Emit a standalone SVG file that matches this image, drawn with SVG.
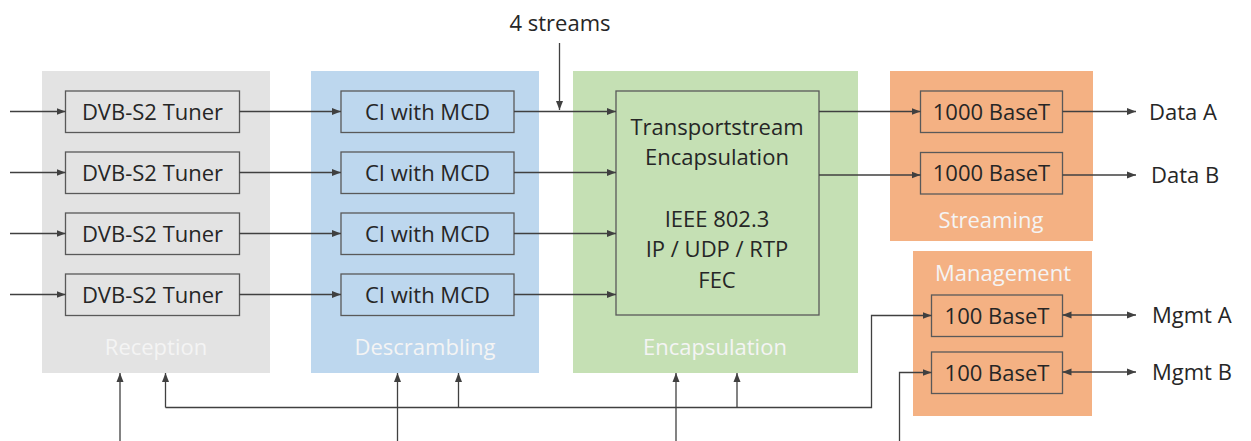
<svg xmlns="http://www.w3.org/2000/svg" width="1251" height="441" viewBox="0 0 1251 441">
<style>
text{font-family:"Open Sans","Noto Sans",sans-serif;font-size:22px;fill:#262626}
.gl{fill:#f4f4f4;text-anchor:middle}
.c{text-anchor:middle}
.box{stroke:#595959;stroke-width:1.3}
.ln{fill:none;stroke:#404040;stroke-width:1.3}
.a{marker-end:url(#ah)}
.b{marker-end:url(#ah);marker-start:url(#ah)}
</style>
<defs>
<marker id="ah" markerUnits="userSpaceOnUse" markerWidth="9" markerHeight="8" refX="9" refY="4" orient="auto-start-reverse" viewBox="0 0 9 8">
<path d="M0,0.5 L9,4 L0,7.5 z" fill="#404040"/>
</marker>
</defs>
<g id="reception">
<rect x="42" y="71" width="228" height="302" fill="#e3e3e3"/>
<text class="gl" x="156" y="355">Reception</text>
</g>
<g id="descrambling">
<rect x="311" y="71" width="228" height="302" fill="#bdd7ee"/>
<text class="gl" x="425" y="355">Descrambling</text>
</g>
<g id="encapsulation">
<rect x="573" y="71" width="285" height="302" fill="#c5e0b4"/>
<text class="gl" x="715" y="355">Encapsulation</text>
</g>
<g id="streaming">
<rect x="890" y="71" width="203" height="170" fill="#f4b183"/>
<text class="gl" x="991" y="228">Streaming</text>
</g>
<g id="management">
<rect x="913" y="251" width="179" height="165" fill="#f4b183"/>
<text class="gl" x="1003" y="281">Management</text>
</g>
<g id="tuner1"><rect class="box" x="65.5" y="91" width="174" height="41.5" fill="#e3e3e3"/><text class="c" x="152.5" y="119.5">DVB-S2 Tuner</text></g>
<g id="tuner2"><rect class="box" x="65.5" y="152" width="174" height="41.5" fill="#e3e3e3"/><text class="c" x="152.5" y="180.5">DVB-S2 Tuner</text></g>
<g id="tuner3"><rect class="box" x="65.5" y="213" width="174" height="41.5" fill="#e3e3e3"/><text class="c" x="152.5" y="241.5">DVB-S2 Tuner</text></g>
<g id="tuner4"><rect class="box" x="65.5" y="274" width="174" height="41.5" fill="#e3e3e3"/><text class="c" x="152.5" y="302.5">DVB-S2 Tuner</text></g>
<g id="ci1"><rect class="box" x="341" y="91" width="173" height="41.5" fill="#bdd7ee"/><text class="c" x="427.5" y="119.5">CI with MCD</text></g>
<g id="ci2"><rect class="box" x="341" y="152" width="173" height="41.5" fill="#bdd7ee"/><text class="c" x="427.5" y="180.5">CI with MCD</text></g>
<g id="ci3"><rect class="box" x="341" y="213" width="173" height="41.5" fill="#bdd7ee"/><text class="c" x="427.5" y="241.5">CI with MCD</text></g>
<g id="ci4"><rect class="box" x="341" y="274" width="173" height="41.5" fill="#bdd7ee"/><text class="c" x="427.5" y="302.5">CI with MCD</text></g>
<g id="tsenc">
<rect class="box" x="616" y="91" width="203" height="224" fill="#c5e0b4"/>
<text class="c" x="717" y="134.5">Transportstream</text>
<text class="c" x="717" y="164.5">Encapsulation</text>
<text class="c" x="717" y="226.5">IEEE 802.3</text>
<text class="c" x="717" y="256.5">IP / UDP / RTP</text>
<text class="c" x="717" y="288">FEC</text>
</g>
<g id="gbe1"><rect class="box" x="920.5" y="91" width="142" height="41.5" fill="#f4b183"/><text class="c" x="991.5" y="119.5">1000 BaseT</text></g>
<g id="gbe2"><rect class="box" x="920.5" y="152.5" width="142" height="41.5" fill="#f4b183"/><text class="c" x="991.5" y="181">1000 BaseT</text></g>
<g id="fe1"><rect class="box" x="931.5" y="295" width="131" height="41.5" fill="#f4b183"/><text class="c" x="997" y="323.5">100 BaseT</text></g>
<g id="fe2"><rect class="box" x="931.5" y="352" width="131" height="41.5" fill="#f4b183"/><text class="c" x="997" y="380.5">100 BaseT</text></g>
<g id="labels">
<text class="c" x="560" y="31">4 streams</text>
<text x="1149" y="120">Data A</text>
<text x="1151" y="183">Data B</text>
<text x="1152" y="323">Mgmt A</text>
<text x="1152" y="380">Mgmt B</text>
</g>
<g id="connectors">
<path class="ln a" d="M10,111.5H65.5"/>
<path class="ln a" d="M10,172.5H65.5"/>
<path class="ln a" d="M10,233.5H65.5"/>
<path class="ln a" d="M10,294.5H65.5"/>
<path class="ln a" d="M239.5,111.5H341"/>
<path class="ln a" d="M239.5,172.5H341"/>
<path class="ln a" d="M239.5,233.5H341"/>
<path class="ln a" d="M239.5,294.5H341"/>
<path class="ln a" d="M514,111.5H616"/>
<path class="ln a" d="M514,172.5H616"/>
<path class="ln a" d="M514,233.5H616"/>
<path class="ln a" d="M514,294.5H616"/>
<path class="ln a" d="M559.5,43V110"/>
<path class="ln a" d="M819,111.5H920.5"/>
<path class="ln a" d="M819,175H920.5"/>
<path class="ln a" d="M1062.5,111.5H1136"/>
<path class="ln a" d="M1062.5,175H1136"/>
<path class="ln b" d="M1062.5,315H1136"/>
<path class="ln b" d="M1062.5,372H1136"/>
<path class="ln a" d="M120,441V373"/>
<path class="ln a" d="M397.5,441V373"/>
<path class="ln a" d="M676,441V373"/>
<path class="ln a" d="M899.5,441V372.5H931.5"/>
<path class="ln" d="M165.5,407.5H871.5V315.5H931.5" style="marker-end:url(#ah)"/>
<path class="ln a" d="M165.5,407.5V373"/>
<path class="ln a" d="M458.5,407.5V373"/>
<path class="ln a" d="M737,407.5V373"/>
</g>
</svg>
